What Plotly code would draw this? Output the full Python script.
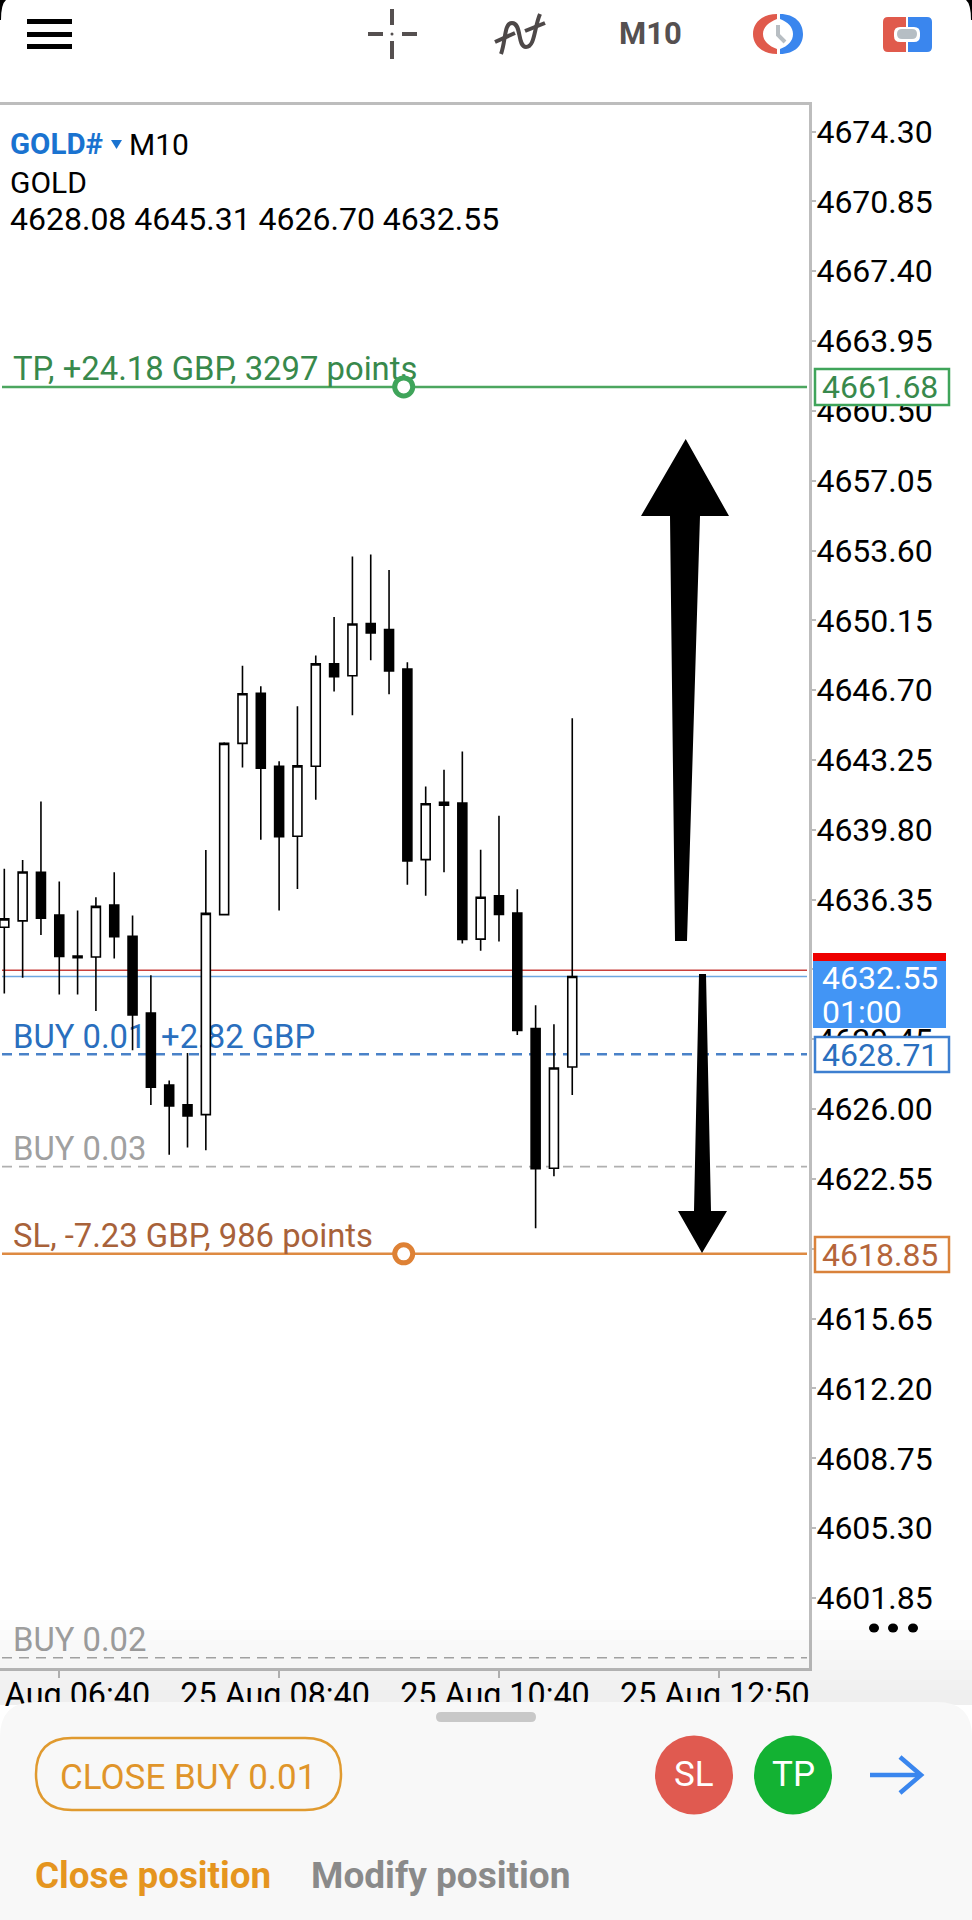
import plotly.graph_objects as go

times = ["06:10", "06:20", "06:30", "06:40", "06:50", "07:00", "07:10", "07:20", "07:30", "07:40", "07:50",
         "08:00", "08:10", "08:20", "08:30", "08:40", "08:50", "09:00", "09:10", "09:20", "09:30", "09:40",
         "09:50", "10:00", "10:10", "10:20", "10:30", "10:40", "10:50", "11:00", "11:10", "11:20"]
opens = [4634.99, 4635.30, 4637.70, 4635.59, 4633.56, 4633.52, 4636.08, 4634.54, 4630.75, 4627.19, 4626.21,
         4625.73, 4635.61, 4644.07, 4646.54, 4642.94, 4639.48, 4642.94, 4648.00, 4647.41, 4649.99, 4649.69,
         4647.74, 4638.33, 4641.16, 4641.12, 4634.40, 4636.54, 4635.69, 4629.98, 4623.08, 4628.08]
highs = [4637.88, 4638.31, 4641.20, 4637.25, 4635.81, 4636.47, 4637.70, 4635.57, 4632.62, 4627.41, 4628.77,
         4638.80, 4644.13, 4647.90, 4646.89, 4643.19, 4645.91, 4648.41, 4650.31, 4653.30, 4653.40, 4652.64,
         4648.08, 4641.94, 4642.77, 4643.67, 4638.81, 4640.49, 4636.86, 4631.13, 4630.19, 4645.31]
lows = [4631.71, 4632.49, 4634.60, 4631.67, 4631.67, 4630.85, 4633.44, 4628.91, 4626.21, 4623.75, 4624.10,
        4623.97, 4635.61, 4642.88, 4639.31, 4635.81, 4636.88, 4641.28, 4646.63, 4645.46, 4648.18, 4646.50,
        4637.09, 4636.54, 4637.71, 4634.19, 4633.82, 4634.28, 4629.66, 4620.12, 4622.69, 4626.70]
closes = [4635.40, 4637.72, 4635.44, 4633.54, 4633.48, 4636.02, 4634.52, 4630.65, 4627.09, 4626.16, 4625.67,
          4635.67, 4644.07, 4646.52, 4642.84, 4639.46, 4642.96, 4648.00, 4647.37, 4649.97, 4649.53, 4647.65,
          4638.26, 4641.09, 4641.02, 4634.38, 4636.47, 4635.62, 4629.89, 4623.06, 4628.03, 4632.55]

price_ticks = [4601.85, 4605.30, 4608.75, 4612.20, 4615.65, 4619.10, 4622.55, 4626.00, 4629.45, 4632.90, 4636.35,
               4639.80, 4643.25, 4646.70, 4650.15, 4653.60, 4657.05, 4660.50, 4663.95, 4667.40, 4670.85, 4674.30]
time_ticks = ["06:40", "08:40", "10:40", "12:40"]
time_labels = ["25 Aug 06:40", "25 Aug 08:40", "25 Aug 10:40", "25 Aug 12:50"]

tp_price = 4661.68
sl_price = 4618.85
bid_price = 4632.55
ask_price = 4632.86
buy_01_price = 4628.71
buy_03_price = 4623.16
buy_02_price = 4598.90
handle_time = "09:48"

W, H = 972, 1920
LEFT, RIGHT, TOP, BOTTOM = 0, 809, 105, 1668
PRICE_MIN, PRICE_MAX = 4598.39, 4675.61
FONT = "Roboto"
day = "2025-08-25 "


def X(px):
    return (px - LEFT) / (RIGHT - LEFT)


def Y(py):
    return 1 - (py - TOP) / (BOTTOM - TOP)


def pp(cmds):
    # path written in screen pixels -> paper coords
    out = []
    is_x = True
    for tok in cmds.split():
        if tok.isalpha():
            out.append(tok)
            is_x = True
        else:
            out.append(str(X(float(tok)) if is_x else Y(float(tok))))
            is_x = not is_x
    return " ".join(out)


def ellipse(cx, cy, rx, ry, **kw):
    return dict(type="circle", xref="paper", yref="paper", x0=X(cx - rx), x1=X(cx + rx),
                y0=Y(cy + ry), y1=Y(cy - ry), layer="above", **kw)


def rect(x0, y0, x1, y1, **kw):
    return dict(type="rect", xref="paper", yref="paper", x0=X(x0), x1=X(x1), y0=Y(y1), y1=Y(y0), layer="above", **kw)


def path(cmds, **kw):
    return dict(type="path", xref="paper", yref="paper", path=pp(cmds), layer="above", **kw)


def rounded(x0, y0, x1, y1, r):
    return (f"M {x0 + r} {y0} L {x1 - r} {y0} Q {x1} {y0} {x1} {y0 + r} L {x1} {y1 - r} Q {x1} {y1} {x1 - r} {y1} "
            f"L {x0 + r} {y1} Q {x0} {y1} {x0} {y1 - r} L {x0} {y0 + r} Q {x0} {y0} {x0 + r} {y0} Z")


def level(price, color, width, dash="solid", text=None, text_color=None):
    # under the candles, same as the app draws them
    out = [dict(type="line", xref="paper", yref="y", x0=X(2), x1=X(RIGHT - 2), y0=price, y1=price, layer="below",
                line=dict(color=color, width=width, dash=dash))]
    if text:
        # label sits on its own clear line 20px over the level
        up = 20.5 * (PRICE_MAX - PRICE_MIN) / (BOTTOM - TOP)
        out.append(dict(type="line", xref="paper", yref="y", y0=price + up, y1=price + up,
                        x0=X(2), x1=X(RIGHT - 2), layer="below", line=dict(color="rgba(0,0,0,0)", width=1),
                        label=dict(text=text, textposition="start", xanchor="left", yanchor="middle", textangle=0,
                                   padding=11, font=dict(family=FONT, size=32.8, color=text_color))))
    return out


def note(px, py, text, size=32, color="black", anchor="left", family=FONT):
    return dict(xref="paper", yref="paper", x=X(px), y=Y(py), text=text, showarrow=False, xanchor=anchor, yanchor="middle",
                font=dict(family=family, size=size, color=color))


def price_box(price, color, text_color, y0, y1):
    shapes.append(rect(815, y0, 949, y1, fillcolor="white", line=dict(color=color, width=2.5)))
    notes.append(note(820, (y0 + y1) / 2, f"{price:.2f}", color=text_color))


fig = go.Figure()

fig.add_trace(go.Candlestick(
    x=[day + t for t in times],
    open=opens, high=highs, low=lows, close=closes,
    increasing=dict(line=dict(color="black", width=1.6), fillcolor="white"),
    decreasing=dict(line=dict(color="black", width=1.6), fillcolor="black"),
    hoverinfo="skip",
    showlegend=False,
))

# the two drag handles on TP / SL
fig.add_trace(go.Scatter(
    x=[day + handle_time, day + handle_time], y=[tp_price, sl_price], mode="markers", hoverinfo="skip", showlegend=False,
    marker=dict(size=18, color="white", line=dict(width=5, color=["#3fa45a", "#de8135"])),
))

shapes = []
shapes += level(ask_price, "#c8403c", 1.6)
shapes += level(bid_price, "#6ea6e0", 1.6)
shapes += level(tp_price, "#4ca65f", 2.5, text="TP, +24.18 GBP, 3297 points", text_color="#38894c")
shapes += level(sl_price, "#de8a42", 2.5, text="SL, -7.23 GBP, 986 points", text_color="#a8623a")
shapes += level(buy_01_price, "#4a82c8", 2.6, "10px,7px", text="BUY 0.01, +2.82 GBP", text_color="#2a6fbe")
shapes += level(buy_03_price, "#b0b0b0", 1.6, "10px,7px", text="BUY 0.03", text_color="#a0a0a0")
shapes += level(buy_02_price, "#a8a8a8", 1.6, "10px,7px", text="BUY 0.02", text_color="#a0a0a0")
notes = []

# hand drawn arrows
shapes.append(path("M 685.7 439 L 729 516 L 700 516 L 687 941 L 675 941 L 670 516 L 641 516 Z", fillcolor="black", line=dict(width=0)))
shapes.append(path("M 699 974 L 706 974 L 711 1211 L 727 1211 L 702 1253 L 678 1211 L 694 1211 Z", fillcolor="black", line=dict(width=0)))

# shadow above the bottom sheet
for i in range(8):
    shapes.append(rect(0, 1620 + i * 10, W, 1705, fillcolor="black", opacity=0.006, line=dict(width=0)))

# price flags
shapes.append(rect(813, 961, 946, 1028, fillcolor="#4295f5", line=dict(width=0)))
shapes.append(rect(813, 953, 946, 961, fillcolor="#ee0000", line=dict(width=0)))
notes.append(note(820, 978, f"{bid_price:.2f}", color="white"))
notes.append(note(820, 1012, "01:00", color="white"))
price_box(tp_price, "#3fa45a", "#38894c", 369, 405)
price_box(buy_01_price, "#3d7fd0", "#2a6fbe", 1037, 1072)
price_box(sl_price, "#d9823b", "#b5653a", 1237, 1272)

# three dots
for cx in [874, 893, 913]:
    shapes.append(ellipse(cx, 1628, 5, 4.5, fillcolor="black", line=dict(width=0)))

# header text on chart
notes.append(note(8, 144, "<b>GOLD#</b>", color="#1a73d0", size=29.5))
shapes.append(path("M 111 140 L 122 140 L 116.5 149 Z", fillcolor="#1a73d0", line=dict(width=0)))
notes.append(note(127, 144, "M10", size=30))
notes.append(note(8, 182, "GOLD", size=30))
notes.append(note(8, 219, f"{opens[-1]:.2f} {highs[-1]:.2f} {lows[-1]:.2f} {closes[-1]:.2f}"))

# top toolbar
for y0 in [19, 32, 44]:
    shapes.append(rect(27, y0, 72, y0 + 5, fillcolor="black", line=dict(width=0)))
gray = "#555050"
for d in ["M 392 9 L 392 25", "M 392 41 L 392 59", "M 368 34 L 383 34", "M 402 34 L 417 34"]:
    shapes.append(path(d, line=dict(color=gray, width=4)))
shapes.append(ellipse(392, 34, 1.5, 1.5, fillcolor=gray, line=dict(width=0)))
for d in ["M 501 54 C 506 40 504 23 512 23 C 522 23 517 47 526 47 C 535 47 534 28 540 14",
          "M 495 42 L 515 33", "M 525 31 L 545 23"]:
    shapes.append(path(d, line=dict(color="#4d4848", width=4)))
notes.append(note(650, 33, "<b>M10</b>", size=31, color="#555050", anchor="center"))
shapes.append(path("M 777 14 C 762 14 753 23 753 34 C 753 45 762 54 777 54 L 777 49 C 769 46 763 41 763 34 C 763 27 769 22 777 19 Z",
                   fillcolor="#e05a4c", line=dict(width=0)))
shapes.append(path("M 780 14 C 795 14 803 23 803 34 C 803 45 795 54 780 54 L 780 49 C 788 46 793 41 793 34 C 793 27 788 22 780 19 Z",
                   fillcolor="#3a86ee", line=dict(width=0)))
shapes.append(path("M 778 25 L 778 35 L 785 42", line=dict(color="#b8bec3", width=4)))
shapes.append(path("M 906 17 L 888 17 Q 883 17 883 22 L 883 47 Q 883 52 888 52 L 906 52 Z", fillcolor="#e05a4c", line=dict(width=0)))
shapes.append(path("M 908 17 L 927 17 Q 932 17 932 22 L 932 47 Q 932 52 927 52 L 908 52 Z", fillcolor="#3a86ee", line=dict(width=0)))
shapes.append(path(rounded(894, 27, 920, 42, 6), fillcolor="white", line=dict(width=0)))
shapes.append(path(rounded(897, 29, 917, 39, 5), fillcolor="#b6bec4", line=dict(width=0)))
shapes.append(path("M 0 0 L 6 0 Q 1 4 1 20 L 0 20 Z", fillcolor="black", line=dict(width=0)))
shapes.append(path("M 972 0 L 966 0 Q 971 4 971 20 L 972 20 Z", fillcolor="black", line=dict(width=0)))

# bottom sheet
shapes.append(path("M 0 1737 Q 0 1702 35 1702 L 937 1702 Q 972 1702 972 1737 L 972 1920 L 0 1920 Z", fillcolor="#f8f8f8", line=dict(width=0)))
shapes.append(path(rounded(436, 1712, 536, 1722, 5), fillcolor="#c8c8c8", line=dict(width=0)))
shapes.append(path(rounded(36, 1738, 341, 1810, 36), fillcolor="rgba(0,0,0,0)", line=dict(color="#e09a2f", width=2.5)))
notes.append(note(188, 1777, "CLOSE BUY 0.01", color="#e0952a", anchor="center", size=35))
shapes.append(ellipse(694, 1775, 39, 39.5, fillcolor="#e05a50", line=dict(width=0)))
notes.append(note(694, 1775, "SL", color="white", anchor="center", size=35))
shapes.append(ellipse(793, 1775, 39, 39.5, fillcolor="#13b233", line=dict(width=0)))
notes.append(note(793, 1775, "TP", color="white", anchor="center", size=35))
shapes.append(path("M 870 1775 L 920 1775", line=dict(color="#3a86ee", width=4.5)))
shapes.append(path("M 900 1757 L 921 1775 L 900 1793", line=dict(color="#3a86ee", width=4.5)))
notes.append(note(33, 1876, "<b>Close position</b>", color="#e5951f", size=36.8))
notes.append(note(309, 1876, "<b>Modify position</b>", color="#8a8a8a", size=37))

fig.update_layout(
    width=W, height=H,
    margin=dict(l=LEFT, r=W - RIGHT, t=TOP, b=H - BOTTOM, autoexpand=False),
    plot_bgcolor="white", paper_bgcolor="white",
    showlegend=False,
    boxgap=0.3, boxgroupgap=0.3,
    shapes=shapes,
    annotations=notes,
    xaxis=dict(
        type="date",
        range=[day + "06:07:39", day + "13:29:13"],
        rangeslider=dict(visible=False),
        tickmode="array", tickvals=[day + t for t in time_ticks], ticktext=[t + "&nbsp;" for t in time_labels],
        tickfont=dict(family=FONT, size=32.3, color="black"),
        ticklabeloverflow="allow", ticklabelstandoff=-11,
        ticks="outside", ticklen=7, tickwidth=1.5, tickcolor="#bbbbbb",
        showgrid=False, zeroline=False,
        showline=True, mirror=True, linecolor="#bdbdbd", linewidth=3,
    ),
    yaxis=dict(
        side="right",
        range=[PRICE_MIN, PRICE_MAX],
        tickmode="array", tickvals=price_ticks, tickformat=".2f",
        tickfont=dict(family=FONT, size=32, color="black"),
        ticklabelstandoff=-6,
        ticks="outside", ticklen=4, tickwidth=1.5, tickcolor="#bbbbbb",
        showgrid=False, zeroline=False,
        showline=True, linecolor="#bdbdbd", linewidth=3,
    ),
)

fig.write_html("out.html", config=dict(displayModeBar=False),
               post_script="document.body.style.margin='0';document.body.style.background='white';")
